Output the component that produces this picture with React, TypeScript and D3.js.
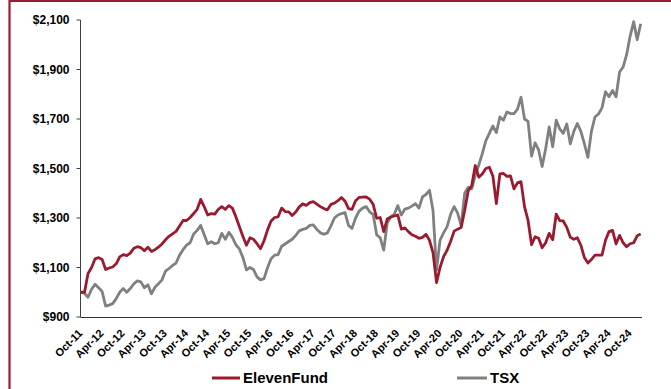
import React from "react";
import * as d3 from "d3";

// Monthly values, Oct-11 .. Jan-25 (growth of $1,000)
const elevenFund: number[] = [
  1000, 1000, 1076, 1100, 1135, 1140, 1132, 1092, 1098, 1102,
  1115, 1143, 1152, 1148, 1158, 1178, 1184, 1180, 1168, 1182,
  1165, 1172, 1182, 1195, 1212, 1226, 1236, 1246, 1268, 1290,
  1290, 1302, 1318, 1335, 1375, 1346, 1312, 1318, 1316, 1335,
  1346, 1335, 1350, 1340, 1305, 1265, 1225, 1190, 1220, 1214,
  1196, 1176, 1208, 1252, 1288, 1302, 1305, 1340, 1326, 1325,
  1310, 1324, 1345, 1357, 1351, 1362, 1366, 1356, 1346, 1338,
  1333, 1355, 1360, 1370, 1383, 1368, 1338, 1335, 1370, 1383,
  1384, 1385, 1376, 1355, 1299, 1302, 1245, 1296, 1304, 1308,
  1312, 1255, 1260, 1245, 1232, 1226, 1218, 1222, 1234, 1210,
  1160, 1039, 1100, 1144, 1170, 1205, 1247, 1255, 1262, 1330,
  1410, 1430, 1512, 1465, 1478, 1500, 1505, 1470, 1358, 1478,
  1480, 1468, 1470, 1418, 1442, 1447, 1345, 1290, 1192, 1224,
  1218, 1180, 1200, 1238, 1212, 1316, 1289, 1288, 1262, 1222,
  1214, 1220, 1190, 1140, 1118, 1132, 1150, 1150, 1150, 1210,
  1245, 1250, 1195, 1230, 1200, 1184, 1196, 1200, 1228, 1235,
];

const tsx: number[] = [
  1000, 996, 980, 1012, 1032, 1018, 1003, 944, 948, 954,
  974, 1000, 1015, 1000, 1015, 1034, 1046, 1042, 1018, 1030,
  994, 1020, 1034, 1050, 1085, 1096, 1108, 1118, 1150, 1172,
  1190, 1200, 1235, 1250, 1270, 1232, 1196, 1204, 1196, 1200,
  1238, 1214, 1242, 1222, 1192, 1175, 1140, 1090, 1100, 1092,
  1062, 1050, 1055, 1100, 1135, 1150, 1152, 1186, 1195, 1205,
  1214, 1230, 1248, 1254, 1258, 1270, 1272, 1254, 1240, 1234,
  1240, 1268, 1300, 1312, 1318, 1322, 1270, 1258, 1300, 1328,
  1340, 1346, 1325, 1314, 1232, 1220, 1170, 1280, 1305, 1315,
  1350, 1312, 1336, 1340, 1348, 1358, 1340, 1385, 1395, 1412,
  1330, 1090, 1210, 1240, 1265, 1315, 1346, 1320, 1268, 1400,
  1424, 1418, 1472, 1514, 1560, 1612, 1642, 1672, 1645, 1708,
  1695, 1728, 1722, 1722, 1740, 1788, 1700, 1690, 1550, 1604,
  1575, 1508, 1580, 1668, 1588, 1695, 1660, 1642, 1680, 1600,
  1650, 1682, 1650, 1600, 1545, 1650, 1708, 1720, 1745, 1810,
  1790, 1815, 1790, 1890, 1910, 1960, 2035, 2093, 2020, 2085,
];

const xTickLabels: string[] = [
  "Oct-11", "Apr-12", "Oct-12", "Apr-13", "Oct-13", "Apr-14", "Oct-14",
  "Apr-15", "Oct-15", "Apr-16", "Oct-16", "Apr-17", "Oct-17", "Apr-18",
  "Oct-18", "Apr-19", "Oct-19", "Apr-20", "Oct-20", "Apr-21", "Oct-21",
  "Apr-22", "Oct-22", "Apr-23", "Oct-23", "Apr-24", "Oct-24",
];
const monthsPerTick = 6;

const yTicks: number[] = [900, 1100, 1300, 1500, 1700, 1900, 2100];

const seriesNames = ["ElevenFund", "TSX"];

const RED = "#9A1B2F";
const GRAY = "#808080";
const FONT = "'Liberation Sans', Arial, Helvetica, sans-serif";

export default function App() {
  const W = 671;
  const H = 389;
  const left = 81;
  const right = 640.7;
  const top = 20;
  const bottom = 317;

  const x = d3.scaleLinear().domain([0, elevenFund.length - 1]).range([left, right]);
  const y = d3.scaleLinear().domain([900, 2100]).range([bottom, top]);
  const line = d3
    .line<number>()
    .x((_, i) => x(i))
    .y((d) => y(d))
    .curve(d3.curveLinear);

  const fmt = (v: number) => "$" + d3.format(",")(v);

  return (
    <svg
      width={W}
      height={H}
      viewBox={`0 0 ${W} ${H}`}
      style={{ position: "absolute", left: 0, top: 0, display: "block", background: "#fff" }}
      fontFamily={FONT}
    >
      {/* frame */}
      <line x1={9.5} x2={9.5} y1={0} y2={H} stroke={RED} strokeWidth={2.2} />
      <line x1={9} x2={W} y1={1} y2={1} stroke={RED} strokeWidth={2.2} />

      {/* y axis */}
      <line x1={left - 0.5} x2={left - 0.5} y1={top} y2={bottom} stroke="#404040" strokeWidth={1} />
      {yTicks.map((t) => (
        <g key={t}>
          <line x1={left - 4.5} x2={left - 0.5} y1={y(t)} y2={y(t)} stroke="#404040" strokeWidth={1} />
          <text
            x={69.5}
            y={y(t)}
            dy="0.36em"
            textAnchor="end"
            fontSize={12}
            fontWeight="bold"
            fill="#000"
          >
            {fmt(t)}
          </text>
        </g>
      ))}

      {/* x axis */}
      <line x1={left - 0.5} x2={642} y1={bottom + 0.5} y2={bottom + 0.5} stroke="#333" strokeWidth={1} />
      {xTickLabels.map((lab, k) => {
        const px = x(k * monthsPerTick);
        return (
          <text
            key={lab}
            transform={`translate(${px + 2.2},${334}) rotate(-45)`}
            textAnchor="end"
            fontSize={11}
            fontWeight="bold"
            fill="#000"
          >
            {lab}
          </text>
        );
      })}

      {/* series */}
      <path d={line(tsx) || ""} fill="none" stroke={GRAY} strokeWidth={2.8} strokeLinejoin="round" />
      <path d={line(elevenFund) || ""} fill="none" stroke={RED} strokeWidth={2.8} strokeLinejoin="round" />

      {/* legend */}
      <line x1={212} x2={240} y1={378} y2={378} stroke={RED} strokeWidth={3} />
      <text x={243} y={383} fontSize={15} fontWeight="bold" fill="#000">
        {seriesNames[0]}
      </text>
      <line x1={457} x2={487} y1={378} y2={378} stroke={GRAY} strokeWidth={3} />
      <text x={490} y={383} fontSize={15} fontWeight="bold" fill="#000">
        {seriesNames[1]}
      </text>
    </svg>
  );
}
